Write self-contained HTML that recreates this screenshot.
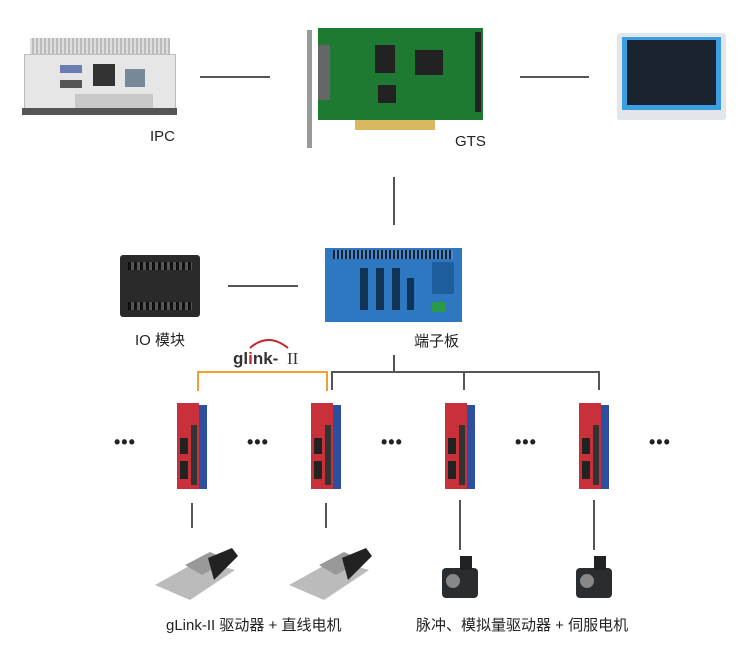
<!DOCTYPE html>
<html><head><meta charset="utf-8"><style>
body{margin:0;width:750px;height:648px;background:#fff;position:relative;overflow:hidden;font-family:"Liberation Sans","Noto Sans CJK SC",sans-serif;color:#222}
.a{position:absolute}
.l{position:absolute;background:#555}
.t{position:absolute;font-size:15px;white-space:nowrap}
.dots{position:absolute;font-size:18px;letter-spacing:1px;font-weight:bold;color:#222}
.drv{position:absolute;width:30px;height:86px}
</style></head><body>
<!-- IPC -->
<div class="a" style="left:30px;top:38px;width:140px;height:16px;background:repeating-linear-gradient(90deg,#ddd 0 2px,#bbb 2px 4px)"></div>
<div class="a" style="left:24px;top:54px;width:150px;height:56px;background:#e6e6e6;border:1px solid #bbb"></div>
<div class="a" style="left:60px;top:65px;width:22px;height:8px;background:#6a7fb0"></div>
<div class="a" style="left:60px;top:80px;width:22px;height:8px;background:#555"></div>
<div class="a" style="left:93px;top:64px;width:22px;height:22px;background:#333"></div>
<div class="a" style="left:125px;top:69px;width:20px;height:18px;background:#789"></div>
<div class="a" style="left:75px;top:94px;width:78px;height:14px;background:#c8c8c8"></div>
<div class="a" style="left:22px;top:108px;width:155px;height:7px;background:#555"></div>
<div class="t" style="left:150px;top:128px">IPC</div>
<div class="l" style="left:200px;top:76px;width:70px;height:2px"></div>
<!-- GTS -->
<div class="a" style="left:307px;top:30px;width:5px;height:118px;background:#999"></div>
<div class="a" style="left:318px;top:28px;width:165px;height:92px;background:#1e7a32"></div>
<div class="a" style="left:318px;top:45px;width:12px;height:55px;background:#666"></div>
<div class="a" style="left:415px;top:50px;width:28px;height:25px;background:#222"></div>
<div class="a" style="left:375px;top:45px;width:20px;height:28px;background:#222"></div>
<div class="a" style="left:378px;top:85px;width:18px;height:18px;background:#222"></div>
<div class="a" style="left:475px;top:32px;width:6px;height:80px;background:#222"></div>
<div class="a" style="left:355px;top:120px;width:80px;height:10px;background:#d9b860"></div>
<div class="t" style="left:455px;top:133px">GTS</div>
<div class="l" style="left:520px;top:76px;width:69px;height:2px"></div>
<!-- monitor -->
<div class="a" style="left:617px;top:33px;width:109px;height:87px;background:#e2e6ea;border-radius:3px"></div>
<div class="a" style="left:622px;top:37px;width:99px;height:73px;background:#3a9ee0"></div>
<div class="a" style="left:627px;top:40px;width:89px;height:65px;background:#1a2330"></div>
<div class="l" style="left:393px;top:177px;width:2px;height:48px"></div>
<!-- IO -->
<div class="a" style="left:120px;top:255px;width:80px;height:62px;background:#2a2a2a;border-radius:3px"></div>
<div class="a" style="left:128px;top:262px;width:64px;height:8px;background:repeating-linear-gradient(90deg,#111 0 3px,#555 3px 6px)"></div>
<div class="a" style="left:128px;top:302px;width:64px;height:8px;background:repeating-linear-gradient(90deg,#111 0 3px,#555 3px 6px)"></div>
<div class="t" style="left:135px;top:329px">IO 模块</div>
<div class="l" style="left:228px;top:285px;width:70px;height:2px"></div>
<!-- terminal board -->
<div class="a" style="left:325px;top:248px;width:137px;height:74px;background:#2d78c0"></div>
<div class="a" style="left:333px;top:250px;width:120px;height:9px;background:repeating-linear-gradient(90deg,#123 0 2px,#4a8ad0 2px 4px)"></div>
<div class="a" style="left:360px;top:268px;width:8px;height:42px;background:#135"></div>
<div class="a" style="left:376px;top:268px;width:8px;height:42px;background:#135"></div>
<div class="a" style="left:392px;top:268px;width:8px;height:42px;background:#135"></div>
<div class="a" style="left:407px;top:278px;width:7px;height:32px;background:#135"></div>
<div class="a" style="left:432px;top:262px;width:22px;height:32px;background:#1f5e9c"></div>
<div class="a" style="left:432px;top:302px;width:14px;height:10px;background:#2a9a4a"></div>
<div class="t" style="left:414px;top:330px">端子板</div>
<!-- glink logo -->
<svg class="a" style="left:230px;top:334px" width="80" height="36"><path d="M20 14 Q38 -2 58 14" stroke="#c0262c" stroke-width="2" fill="none"/><text x="3" y="30" font-family="Liberation Sans" font-weight="bold" font-size="17" fill="#333">gl<tspan fill="#c0262c">i</tspan>nk-</text><text x="57" y="30" font-family="Liberation Serif" font-size="17" fill="#333">II</text></svg>
<!-- connectors -->
<div class="a" style="left:197px;top:371px;width:127px;height:18px;border:2px solid #f0a030;border-bottom:none"></div>
<div class="l" style="left:331px;top:371px;width:268px;height:1.5px"></div>
<div class="l" style="left:393px;top:355px;width:1.5px;height:17px"></div>
<div class="l" style="left:331px;top:371px;width:1.5px;height:19px"></div>
<div class="l" style="left:463px;top:371px;width:1.5px;height:19px"></div>
<div class="l" style="left:598px;top:371px;width:1.5px;height:19px"></div>
<!-- drives -->
<div id="drives"></div>
<div class="drv a" style="left:177px;top:403px"><div class="a" style="left:0;top:0;width:22px;height:86px;background:#c8313a"></div><div class="a" style="left:22px;top:2px;width:8px;height:84px;background:#2d4fa0"></div><div class="a" style="left:14px;top:22px;width:6px;height:60px;background:#333"></div><div class="a" style="left:3px;top:35px;width:8px;height:16px;background:#222"></div><div class="a" style="left:3px;top:58px;width:8px;height:18px;background:#222"></div></div>
<div class="drv a" style="left:311px;top:403px"><div class="a" style="left:0;top:0;width:22px;height:86px;background:#c8313a"></div><div class="a" style="left:22px;top:2px;width:8px;height:84px;background:#2d4fa0"></div><div class="a" style="left:14px;top:22px;width:6px;height:60px;background:#333"></div><div class="a" style="left:3px;top:35px;width:8px;height:16px;background:#222"></div><div class="a" style="left:3px;top:58px;width:8px;height:18px;background:#222"></div></div>
<div class="drv a" style="left:445px;top:403px"><div class="a" style="left:0;top:0;width:22px;height:86px;background:#c8313a"></div><div class="a" style="left:22px;top:2px;width:8px;height:84px;background:#2d4fa0"></div><div class="a" style="left:14px;top:22px;width:6px;height:60px;background:#333"></div><div class="a" style="left:3px;top:35px;width:8px;height:16px;background:#222"></div><div class="a" style="left:3px;top:58px;width:8px;height:18px;background:#222"></div></div>
<div class="drv a" style="left:579px;top:403px"><div class="a" style="left:0;top:0;width:22px;height:86px;background:#c8313a"></div><div class="a" style="left:22px;top:2px;width:8px;height:84px;background:#2d4fa0"></div><div class="a" style="left:14px;top:22px;width:6px;height:60px;background:#333"></div><div class="a" style="left:3px;top:35px;width:8px;height:16px;background:#222"></div><div class="a" style="left:3px;top:58px;width:8px;height:18px;background:#222"></div></div>
<div class="dots" style="left:114px;top:432px">•••</div>
<div class="dots" style="left:247px;top:432px">•••</div>
<div class="dots" style="left:381px;top:432px">•••</div>
<div class="dots" style="left:515px;top:432px">•••</div>
<div class="dots" style="left:649px;top:432px">•••</div>
<div class="l" style="left:191px;top:503px;width:1.5px;height:25px"></div>
<div class="l" style="left:325px;top:503px;width:1.5px;height:25px"></div>
<div class="l" style="left:459px;top:500px;width:1.5px;height:50px"></div>
<div class="l" style="left:593px;top:500px;width:1.5px;height:50px"></div>
<!-- linear stages -->
<svg class="a" style="left:150px;top:540px" width="90" height="65"><polygon points="5,45 50,20 85,30 40,60" fill="#bbb"/><polygon points="35,25 60,12 78,20 52,35" fill="#999"/><polygon points="58,18 82,8 88,16 64,40" fill="#222"/></svg>
<svg class="a" style="left:284px;top:540px" width="90" height="65"><polygon points="5,45 50,20 85,30 40,60" fill="#bbb"/><polygon points="35,25 60,12 78,20 52,35" fill="#999"/><polygon points="58,18 82,8 88,16 64,40" fill="#222"/></svg>
<!-- motors -->
<div class="a" style="left:442px;top:568px;width:36px;height:30px;background:#2a2d30;border-radius:4px"></div><div class="a" style="left:460px;top:556px;width:12px;height:14px;background:#222"></div><div class="a" style="left:446px;top:574px;width:14px;height:14px;border-radius:50%;background:#888"></div>
<div class="a" style="left:576px;top:568px;width:36px;height:30px;background:#2a2d30;border-radius:4px"></div><div class="a" style="left:594px;top:556px;width:12px;height:14px;background:#222"></div><div class="a" style="left:580px;top:574px;width:14px;height:14px;border-radius:50%;background:#888"></div>
<div class="t" style="left:166px;top:614px">gLink-II 驱动器 + 直线电机</div>
<div class="t" style="left:416px;top:614px">脉冲、模拟量驱动器 + 伺服电机</div>
</body></html>
